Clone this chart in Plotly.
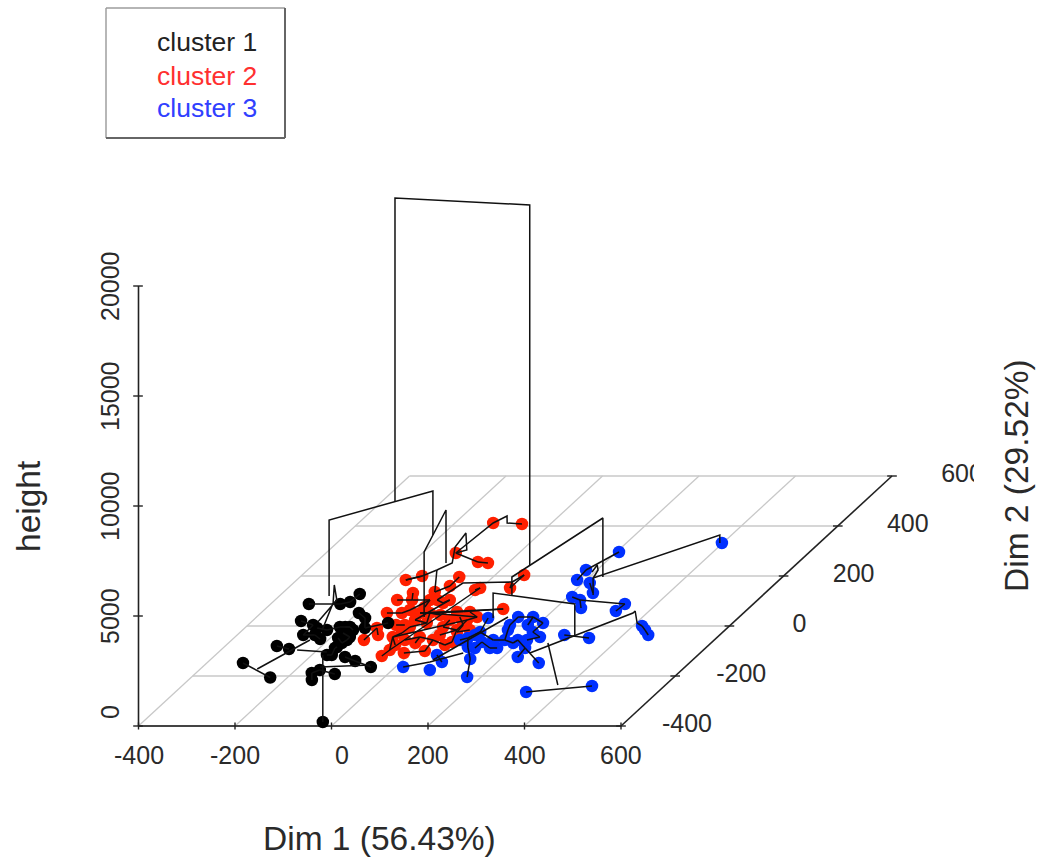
import plotly.graph_objects as go

# ---------- data (Dim 1, Dim 2) of the leaves, all at height 0 ----------
black_d1 = [-325,-236,-293,-261,-299,-263,-321,-265,-239,-219,-169,-159,-168,-144,-160,-150,-110,-27,-256,-240,-238,-197,-173,-151,-114,-194,-184,-185,-162,-165,-161,-127,-97,-51,-166,-250,-225,-205,-171,-184]
black_d2 = [-148,-206,-80,-92,20,-36,88,4,-36,-52,-116,-116,-88,-216,-188,-176,-192,-384,88,96,128,52,32,-8,12,-4,-4,-28,-44,-68,-56,-124,-140,-164,-84,-8,-16,-4,-16,-48]
red_d1 = [-126,-126,-108,-53,-14,-139,-147,-174,-149,-130,-108,-116,-87,-69,-70,-8,-64,-45,-131,-65,4,-70,-50,-73,-63,-60,-13,-17,25,17,9,61,44,43,57,-34,-121,-59,-42,-2,60,60,93,21,46,49,-24,53,-75,-50,71,-93,-98,-79,-65,20,-50,7,31,-74,-38,-41]
red_d2 = [-56,-8,-36,-120,-108,52,104,184,200,132,52,104,136,160,196,144,104,92,292,256,56,52,52,-44,-28,-4,-68,-44,-100,-56,-4,-64,-16,24,36,12,412,408,252,152,152,204,68,36,4,-24,44,-76,4,-96,-16,4,64,104,24,-36,-76,24,56,76,104,-56]
blue_d1 = [16,78,85,59,171,137,105,153,168,123,85,97,82,150,142,173,207,206,232,193,226,231,288,327,450,278,336,209,232,252,181,177,205,214,243,334,331,419,452,398,166,190,142,122,434,180,143,93,212,73]
blue_d2 = [-164,-176,-144,-116,-204,-132,-84,-88,-88,-64,-48,-24,32,-16,36,36,12,-24,-44,-56,-88,-124,-148,-264,-240,-36,-48,116,104,72,184,224,296,172,132,88,60,0,-36,332,-56,-68,-56,-88,-16,4,4,-36,-56,-56]

# leaf-to-leaf joins (indices into the arrays above)
black_links = [(0,1),(2,3),(18,19),(19,20),(21,22),(22,23),(25,26),(27,28),(29,30),(31,32),(32,33),(13,14),(14,15),(15,16),(10,11),(11,12),(4,7),(5,8),(8,9),(23,24),(26,37),(35,36),(36,37),(34,12),(28,30),(6,18),(5,7),(38,26),(39,29)]
red_links = [(0,1),(1,2),(5,10),(6,11),(7,8),(9,11),(12,13),(13,14),(15,39),(16,17),(18,19),(19,38),(20,21),(21,22),(22,35),(23,24),(24,25),(26,27),(27,29),(28,29),(30,32),(32,33),(33,34),(31,32),(35,25),(40,41),(42,20),(43,44),(44,45),(47,31),(48,51),(49,23),(52,53),(53,11),(46,22),(50,45),(10,52),(3,49),(4,28),(29,47),(49,39),(21,42),(23,33),(22,34),(54,35),(55,32),(56,23),(57,30),(58,34),(59,53),(60,17),(61,27),(54,60)]
blue_links = [(23,24),(35,36),(37,44),(44,38),(25,26),(27,28),(28,29),(30,31),(31,32),(33,34),(28,35),(2,3),(4,5),(5,6),(6,10),(10,11),(11,12),(9,43),(7,8),(7,9),(42,40),(40,41),(41,19),(19,20),(20,21),(20,22),(13,46),(46,14),(14,15),(15,16),(16,17),(17,18),(13,40),(11,42),(45,15),(47,11),(48,18),(49,10)]

# dendrogram branches as (Dim 1, Dim 2, height)
branches = [
    [(-65,-50,6227),(-65,-50,20023),(230,-78,20023),(230,-78,3659)],
    [(-160,-124,2773),(-160,-124,6227),(-10,-8,6227),(-10,-8,4227)],
    [(10,-76,1273),(10,-76,4227),(-39,92,4227),(-39,92,1818)],
    [(220,-126,2841),(220,-126,3659),(276,110,3659),(276,110,977)],
    [(258,106,205),(258,106,977),(424,278,977),(424,278,614)],
    [(135,-44,864),(135,-44,2000),(329,-88,2000),(329,-88,591)],
    [(-27,-384,0),(-27,-384,3045)],
    [(-282,-172,0),(-238,-56,0)],
    [(-242,-96,0),(-176,-104,0)],
    [(-156,-164,0),(-57,-156,0)],
    [(-235,-16,0),(-273,92,0),(-311,164,0),(-272,104,0),(-262,16,0)],
    [(-174,184,0),(-149,200,0),(-132,224,0),(-116,252,0),(-146,316,0),(-155,372,0),(-115,304,0),(-131,292,0)],
    [(-132,224,0),(-87,136,0)],
    [(-131,292,0),(-121,412,0),(-108,440,0),(-92,412,0),(-59,408,0)],
    [(-64,104,0),(-49,172,0),(51,176,0),(60,152,0)],
    [(51,176,0),(60,204,0)],
    [(247,-108,0),(371,52,0),(371,60,0),(402,12,0),(419,0,0)],
    [(262,-68,0),(377,-236,0)],
    [(194,216,0),(189,244,0),(202,224,0),(210,192,0)],
    [(62,-136,0),(121,36,0)],
    [(16,-164,0),(60,-144,0),(109,-108,0)],
]

dim1_ticks = [-400,-200,0,200,400,600]
dim1_label_shift = [0,0,10,0,0,0]
dim2_ticks = [-400,-200,0,200,400,600]
height_ticks = [0,5000,10000,15000,20000]
legend_names = ["cluster 1","cluster 2","cluster 3"]
x_title = "Dim 1 (56.43%)"
y_title = "Dim 2 (29.52%)"
z_title = "height"

COL = {"cluster 1":"#000000","cluster 2":"#ff2000","cluster 3":"#0030ff"}
TXT = {"cluster 1":"#222222","cluster 2":"#ff3030","cluster 3":"#3040ff"}
FONT = "Liberation Sans, Arial, sans-serif"

# ---------- oblique projection of (d1, d2, h) onto the plotting plane ----------
def px(d1, d2, h=0): return 138.5 + 0.4825*(d1+400) + 0.271*(d2+400)
def py(d1, d2, h=0): return 726 - 0.25*(d2+400) - 0.022*h

def poly(segments, color, width):
    xs, ys = [], []
    for seg in segments:
        for v in seg:
            xs.append(px(*v)); ys.append(py(*v))
        xs.append(None); ys.append(None)
    return go.Scatter(x=xs, y=ys, mode="lines", line=dict(color=color, width=width),
                      hoverinfo="skip", showlegend=False)

def links(d1, d2, pairs):
    return [[(d1[a],d2[a],0),(d1[b],d2[b],0)] for a,b in pairs]

fig = go.Figure()

grid = [[(-400,v,0),(600,v,0)] for v in dim2_ticks[1:]] + [[(v,-400,0),(v,600,0)] for v in dim1_ticks[:-1]]
fig.add_trace(poly(grid, "#c8c8c8", 1.3))

axes = [[(-400,-400,0),(600,-400,0)], [(600,-400,0),(600,600,0)], [(-400,-400,0),(-400,-400,20000)]]
fig.add_trace(poly([axes[0]], "#444444", 2.2))
fig.add_trace(poly(axes[1:], "#222222", 1.6))
ticks = [[(v,-400,-160),(v,-400,160)] for v in dim1_ticks]
ticks += [[(600-10,v,0),(600+10,v,0)] for v in dim2_ticks]
ticks += [[(-411,-400,v),(-391,-400,v)] for v in height_ticks]
fig.add_trace(poly(ticks, "#222222", 1.4))

for name, d1, d2 in [("cluster 2",red_d1,red_d2),("cluster 3",blue_d1,blue_d2),("cluster 1",black_d1,black_d2)]:
    fig.add_trace(go.Scatter(x=[px(a,b) for a,b in zip(d1,d2)], y=[py(a,b) for a,b in zip(d1,d2)],
                             mode="markers", marker=dict(color=COL[name], size=12.5, line=dict(width=0)),
                             name=name, showlegend=False, hoverinfo="skip"))

all_links = links(black_d1,black_d2,black_links)+links(red_d1,red_d2,red_links)+links(blue_d1,blue_d2,blue_links)
fig.add_trace(poly(all_links+branches, "#111111", 1.5))

# tick labels of Dim 2 as text marks so the last one can be cut off as in the source
fig.add_trace(go.Scatter(x=[px(600,v)+(66 if v<0 else 70) for v in dim2_ticks],
                         y=[py(600,v) for v in dim2_ticks],
                         text=[str(v) for v in dim2_ticks], mode="text", textposition="middle center",
                         textfont=dict(family=FONT,size=25,color="#2a2a2a"),
                         hoverinfo="skip", showlegend=False))

ann = []
for v, s in zip(dim1_ticks, dim1_label_shift):
    ann.append(dict(x=px(v,-400)+s, y=755, text=str(v), font=dict(size=25)))
for v in height_ticks:
    ann.append(dict(x=110, y=py(-400,-400,v)-(14 if v==0 else 0), text=str(v), textangle=-90, font=dict(size=25)))
ann.append(dict(x=379, y=838, text=x_title, font=dict(size=33.5)))
ann.append(dict(x=1016, y=476, text=y_title, textangle=-90, font=dict(size=33.5)))
ann.append(dict(x=28, y=506, text=z_title, textangle=-90, font=dict(size=33.5)))
for name, y in zip(legend_names,[42,76,108]):
    ann.append(dict(x=155, y=y, text=name, xanchor="left", font=dict(size=26.5,color=TXT[name])))
for a in ann:
    a.update(xref="x", yref="y", showarrow=False)
    a.setdefault("xanchor","center"); a["yanchor"]="middle"
    a["font"] = dict(family=FONT, color=a["font"].get("color","#2a2a2a"), size=a["font"]["size"])

def ln(x0,y0,x1,y1,c,w): return dict(type="line",xref="x",yref="y",x0=x0,y0=y0,x1=x1,y1=y1,line=dict(color=c,width=w))
shapes = [ln(106,8,285,8,"#b5b5b5",1.8), ln(106,8,106,138,"#999999",1.4),
          ln(285,8,285,138,"#666666",2), ln(106,138,285,138,"#666666",2.2),
          dict(type="rect",xref="x",yref="y",x0=974,x1=992,y0=455,y1=497,fillcolor="white",
               line=dict(width=0),layer="above")]

fig.update_layout(width=1040, height=860, margin=dict(l=0,r=0,t=0,b=0),
                  paper_bgcolor="white", plot_bgcolor="white", annotations=ann, shapes=shapes,
                  showlegend=False,
                  xaxis=dict(range=[0,1040],visible=False,fixedrange=True),
                  yaxis=dict(range=[860,0],visible=False,fixedrange=True))
fig.write_html("out.html", config={"displayModeBar":False},
               post_script="document.body.style.margin='0';document.documentElement.style.overflow='hidden';")
